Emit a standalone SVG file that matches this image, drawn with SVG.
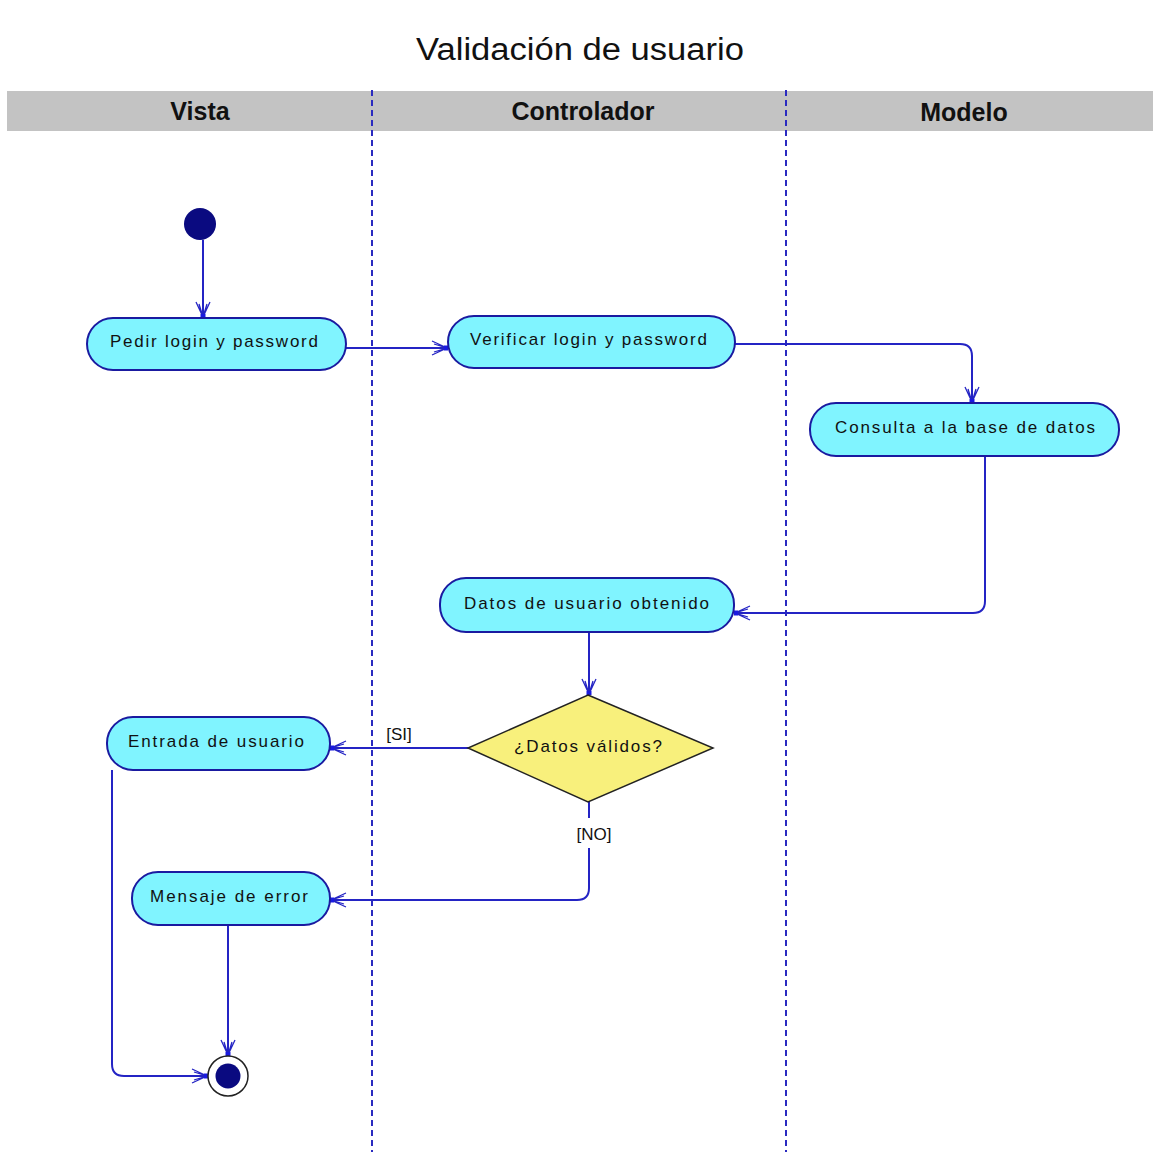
<svg xmlns="http://www.w3.org/2000/svg" width="1153" height="1152" viewBox="0 0 1153 1152">
  <style>
    .title { font-family: "Liberation Sans", Arial, sans-serif; font-size: 31px; fill: #111; }
    .lane { font-family: "Liberation Sans Narrow", "Liberation Sans", Arial, sans-serif; font-size: 25px; font-weight: bold; fill: #111; }
    .act { fill: #80f4ff; stroke: #1a1aa0; stroke-width: 2; }
    .lbl { font-family: "Liberation Sans", Arial, sans-serif; font-size: 17px; fill: #111; }
    .guard { font-family: "Liberation Sans", Arial, sans-serif; font-size: 17px; fill: #111; }
    .sep { stroke: #2a2ac0; stroke-width: 2; stroke-dasharray: 6 4; fill: none; }
    .flow { fill: none; stroke: #2424c4; stroke-width: 2; marker-end: url(#arr); }
  </style>
  <defs>
    <marker id="arr" viewBox="-18 -10 20 20" refX="0" refY="0" markerWidth="20" markerHeight="20" markerUnits="userSpaceOnUse" orient="auto">
      <path d="M-16,-7 L-1,0 L-16,7 M-14,-4 L-1,0 L-14,4" fill="none" stroke="#2424c4" stroke-width="1.3"/>
      <rect x="-4" y="-2.5" width="4" height="5" fill="#1a1ae0"/>
    </marker>
  </defs>

  <rect width="1153" height="1152" fill="#ffffff"/>

  <!-- title -->
  <text class="title" x="416" y="60" textLength="328" lengthAdjust="spacingAndGlyphs">Validación de usuario</text>

  <!-- swimlane header -->
  <rect x="7" y="91" width="1146" height="40" fill="#c3c3c3"/>
  <text class="lane" x="200" y="120" text-anchor="middle">Vista</text>
  <text class="lane" x="583" y="120" text-anchor="middle">Controlador</text>
  <text class="lane" x="964" y="121" text-anchor="middle">Modelo</text>
  <line class="sep" x1="372" y1="90" x2="372" y2="1152"/>
  <line class="sep" x1="786" y1="90" x2="786" y2="1152"/>

  <!-- connectors -->
  <g id="connectors">
    <path class="flow" d="M203,240 V318"/>
    <path class="flow" d="M346,348 H448"/>
    <path class="flow" d="M735,344 H960 Q972,344 972,356 V403"/>
    <path class="flow" d="M985,456 V601 Q985,613 973,613 H734"/>
    <path class="flow" d="M589,632 V695"/>
    <path class="flow" d="M468,748 H330"/>
    <path class="flow" d="M589,802 V888 Q589,900 577,900 H330"/>
    <path class="flow" d="M228,925 V1056"/>
    <path class="flow" d="M112,770 V1064 Q112,1076 124,1076 H208"/>
    <text class="guard" x="399" y="740" text-anchor="middle">[SI]</text>
    <rect x="570" y="818" width="46" height="30" fill="#ffffff"/>
    <text class="guard" x="594" y="840" text-anchor="middle">[NO]</text>
  </g>

  <!-- start -->
  <g id="start">
    <circle cx="200" cy="224" r="16" fill="#0a0a80"/>
  </g>

  <g id="pedir">
    <rect class="act" x="87" y="318" width="259" height="52" rx="26"/>
    <text class="lbl" x="110" y="347" textLength="208" lengthAdjust="spacing">Pedir login y password</text>
  </g>

  <g id="verificar">
    <rect class="act" x="448" y="316" width="287" height="52" rx="26"/>
    <text class="lbl" x="470" y="345" textLength="237" lengthAdjust="spacing">Verificar login y password</text>
  </g>

  <g id="consulta">
    <rect class="act" x="810" y="403" width="309" height="53" rx="26"/>
    <text class="lbl" x="835" y="433" textLength="260" lengthAdjust="spacing">Consulta a la base de datos</text>
  </g>

  <g id="datos">
    <rect class="act" x="440" y="578" width="294" height="54" rx="26"/>
    <text class="lbl" x="464" y="609" textLength="245" lengthAdjust="spacing">Datos de usuario obtenido</text>
  </g>

  <g id="decision">
    <polygon points="588,695 713,748 588,802 468,748" fill="#f8f07c" stroke="#222" stroke-width="1.5"/>
    <text class="lbl" x="514" y="752" textLength="148" lengthAdjust="spacing">¿Datos válidos?</text>
  </g>

  <g id="entrada">
    <rect class="act" x="107" y="717" width="223" height="53" rx="26"/>
    <text class="lbl" x="128" y="747" textLength="176" lengthAdjust="spacing">Entrada de usuario</text>
  </g>

  <g id="mensaje">
    <rect class="act" x="132" y="872" width="198" height="53" rx="26"/>
    <text class="lbl" x="150" y="902" textLength="158" lengthAdjust="spacing">Mensaje de error</text>
  </g>

  <g id="end">
    <circle cx="228" cy="1076" r="20" fill="#ffffff" stroke="#222" stroke-width="1.5"/>
    <circle cx="228" cy="1076" r="12.5" fill="#0a0a80"/>
  </g>
</svg>
